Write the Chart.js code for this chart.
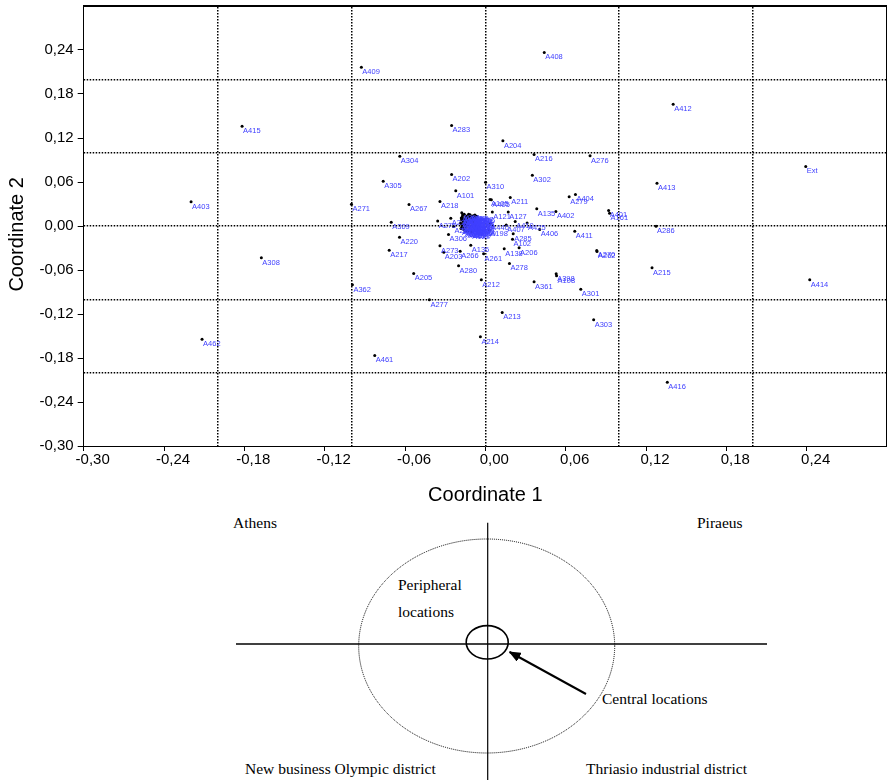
<!DOCTYPE html>
<html>
<head>
<meta charset="utf-8">
<script src="https://cdn.jsdelivr.net/npm/chart.js@4/dist/chart.umd.min.js"></script>
<style>
  html, body { margin: 0; padding: 0; background: #fff; overflow: hidden; }
  #wrap { position: absolute; left: 0; top: -7px; width: 887px; height: 518px; }
  #diagram { position: absolute; left: 0; top: 0; width: 887px; height: 780px; }
  #diagram text { font-family: "Liberation Serif", "Times New Roman", serif; font-size: 15.5px; fill: #000; }
</style>
</head>
<body>
<svg id="diagram" viewBox="0 0 887 780" xmlns="http://www.w3.org/2000/svg">
  <defs>
    <marker id="ah" markerWidth="12" markerHeight="10" refX="11" refY="5" orient="auto" markerUnits="userSpaceOnUse">
      <path d="M0,0 L12,5 L0,10 Z" fill="#000"/>
    </marker>
  </defs>
  <line x1="487.7" y1="522.7" x2="487.7" y2="780" stroke="#000" stroke-width="1.2"/>
  <line x1="236" y1="644" x2="767" y2="644" stroke="#000" stroke-width="1.6"/>
  <ellipse cx="486.7" cy="646" rx="128" ry="107" fill="none" stroke="#000" stroke-width="1" stroke-dasharray="1,1"/>
  <ellipse cx="487.2" cy="642.3" rx="21" ry="16.7" fill="none" stroke="#000" stroke-width="1.6"/>
  <line x1="586" y1="694" x2="509.6" y2="652" stroke="#000" stroke-width="2" marker-end="url(#ah)"/>
  <text x="233" y="528">Athens</text>
  <text x="697" y="528">Piraeus</text>
  <text x="398" y="590">Peripheral</text>
  <text x="398" y="616.5">locations</text>
  <text x="602" y="704">Central locations</text>
  <text x="245" y="774">New business Olympic district</text>
  <text x="586" y="774">Thriasio industrial district</text>
</svg>
<div id="wrap"><canvas id="c"></canvas></div>
<script>
// ---- data ----
const pointLabels = [
  "A415","A403","A409","A408","A283","A204","A216","A304","A202","A302",
  "A305","A310","A101","A211","A105","A405","A218","A271","A267","A135",
  "A402","A121","A127","A279","A404","A276","A309","A412","Ext","A413",
  "A401","A161","A286","A220","A217","A273","A203","A266","A306","A136",
  "A261","A138","A206","A102","A285","A406","A411","A278","A280","A205",
  "A212","A362","A361","A398","A108","A301","A277","A213","A214","A461",
  "A303","A270","A262","A215","A414","A416","A308","A462","A275","A410",
  "A407","A425","A440","A221","A231","A226","A282","A238","A229","A198",
  "A103","A104","A106","A107","A109","A110","A111","A112","A113","A114",
  "A115","A116","A117","A118","A119","A120","A122","A123","A124","A125",
  "A126","A128","A129","A130","A131","A132","A133","A134","A137","A139",
  "A140","A141","A142","A143","A144","A145","A146","A147","A148","A149",
  "A150","A151","A152","A153","A154","A155","A156","A157","A158","A159",
  "A160","A162","A163","A164","A165","A166","A167","A168","A169","A170"
];
const coord1 = [
  -0.1817,-0.2198,-0.0926, 0.0440,-0.0252, 0.0131, 0.0364,-0.0639,-0.0252, 0.0351,
  -0.0763, 0.0002,-0.0221, 0.0186, 0.0035, 0.0045,-0.0339,-0.1000,-0.0570, 0.0384,
   0.0527, 0.0052, 0.0171, 0.0626, 0.0673, 0.0782,-0.0703, 0.1403, 0.2393, 0.1282,
   0.0921, 0.0928, 0.1275,-0.0641,-0.0718,-0.0339,-0.0310,-0.0188,-0.0275,-0.0109,
  -0.0013, 0.0141, 0.0252, 0.0203, 0.0208, 0.0406, 0.0668, 0.0180,-0.0200,-0.0535,
  -0.0030,-0.0993, 0.0364, 0.0529, 0.0532, 0.0713,-0.0418, 0.0126,-0.0037,-0.0826,
   0.0809, 0.0832, 0.0834, 0.1245, 0.2423, 0.1359,-0.1673,-0.2116,-0.0356, 0.0223,
   0.0156, 0.0312, 0.0037,-0.0258,-0.0176,-0.0065,-0.0139,-0.0176,-0.0238, 0.0030,
  -0.0185,-0.0180,-0.0175,-0.0170,-0.0165,-0.0160,-0.0155,-0.0150,-0.0145,-0.0140,
  -0.0135,-0.0130,-0.0125,-0.0120,-0.0115,-0.0110,-0.0105,-0.0100,-0.0095,-0.0090,
  -0.0085,-0.0080,-0.0075,-0.0070,-0.0065,-0.0182,-0.0172,-0.0162,-0.0152,-0.0142,
  -0.0132,-0.0122,-0.0112,-0.0102,-0.0092,-0.0082,-0.0072,-0.0178,-0.0168,-0.0158,
  -0.0148,-0.0138,-0.0128,-0.0118,-0.0108,-0.0098,-0.0088,-0.0078,-0.0068,-0.0060,
  -0.0150,-0.0135,-0.0120,-0.0105,-0.0090,-0.0166,-0.0144,-0.0126,-0.0114,-0.0096
];
const coord2 = [
   0.1361, 0.0330, 0.2166, 0.2366, 0.1371, 0.1162, 0.0975, 0.0952, 0.0702, 0.0693,
   0.0611, 0.0597, 0.0480, 0.0389, 0.0361, 0.0357, 0.0334, 0.0297, 0.0293, 0.0235,
   0.0198, 0.0191, 0.0191, 0.0398, 0.0430, 0.0957, 0.0052, 0.1661, 0.0811, 0.0584,
   0.0211, 0.0175,-0.0003,-0.0153,-0.0330,-0.0270,-0.0357,-0.0344,-0.0116,-0.0262,
  -0.0379,-0.0311,-0.0297,-0.0180,-0.0106,-0.0048,-0.0071,-0.0511,-0.0543,-0.0648,
  -0.0734,-0.0802,-0.0761,-0.0652,-0.0679,-0.0862,-0.1006,-0.1180,-0.1511,-0.1766,
  -0.1279,-0.0334,-0.0348,-0.0570,-0.0734,-0.2130,-0.0434,-0.1544, 0.0068, 0.0061,
   0.0014, 0.0041, 0.0038, 0.0106, 0.0180, 0.0134, 0.0120, 0.0020,-0.0007,-0.0050,
   0.0040, 0.0110,-0.0010, 0.0150, 0.0060,-0.0050, 0.0095, 0.0020, 0.0135,-0.0070,
   0.0075, 0.0005, 0.0160,-0.0030, 0.0115, 0.0045,-0.0080, 0.0090, 0.0025, 0.0140,
  -0.0040, 0.0065, 0.0105,-0.0015, 0.0050,-0.0035, 0.0125, 0.0030,-0.0060, 0.0100,
   0.0015, 0.0145,-0.0055, 0.0055, 0.0120,-0.0025, 0.0080, 0.0085,-0.0020, 0.0160,
   0.0010, 0.0040,-0.0065, 0.0070, 0.0130,-0.0005, 0.0035, 0.0150, 0.0020,-0.0045,
   0.0060, 0.0120,-0.0045, 0.0000, 0.0105, 0.0100,-0.0020, 0.0030, 0.0155,-0.0075
];
const xTickValues = [-0.30,-0.24,-0.18,-0.12,-0.06,0.00,0.06,0.12,0.18,0.24];
const yTickValues = [-0.30,-0.24,-0.18,-0.12,-0.06,0.00,0.06,0.12,0.18,0.24];
const gridValues  = [-0.2,-0.1,0,0.1,0.2];
const axisMin = -0.30, axisMax = 0.30;

// ---- chart ----
const SANS = '"Liberation Sans", Arial, sans-serif';
const points = coord1.map((x, i) => ({ x: x, y: coord2[i] }));
const fmt = v => (Math.abs(v) < 1e-9 ? 0 : v).toFixed(2).replace('.', ',');
const setTicks = arr => scale => { scale.ticks = arr.map(v => ({ value: v })); };

const labelPlugin = {
  id: 'pointLabels',
  afterDatasetsDraw(chart) {
    const ctx = chart.ctx;
    const meta = chart.getDatasetMeta(0);
    ctx.save();
    ctx.font = '7.5px ' + SANS;
    ctx.fillStyle = '#4040ff';
    ctx.textBaseline = 'alphabetic';
    meta.data.forEach((el, i) => { ctx.fillText(pointLabels[i], el.x + 1, el.y + 6.8); });
    ctx.restore();
  }
};

const dotted = { color: '#000', lineWidth: 1.5 };
new Chart(document.getElementById('c'), {
  type: 'scatter',
  data: { datasets: [{ data: points, pointRadius: 1.5, pointHoverRadius: 1.5,
    backgroundColor: '#000', borderWidth: 0 }] },
  options: {
    responsive: true, maintainAspectRatio: false, animation: false,
    layout: { padding: { top: 5.5, right: 0, bottom: 0, left: 0 }, autoPadding: false },
    plugins: { legend: { display: false }, tooltip: { enabled: false } },
    events: [],
    scales: {
      x: {
        type: 'linear', position: 'bottom', min: axisMin, max: axisMax,
        afterBuildTicks: setTicks(xTickValues),
        grid: { drawOnChartArea: false, drawTicks: true, tickLength: 5, color: '#000' },
        border: { display: true, color: '#000', width: 1 },
        ticks: { font: { family: SANS, size: 15 }, color: '#000', padding: 0, labelOffset: 9,
          maxRotation: 0, autoSkip: false, callback: v => fmt(v) },
        title: { display: true, text: 'Coordinate 1', color: '#000',
          font: { family: SANS, size: 20 }, padding: { top: 14, bottom: 4 } }
      },
      y: {
        type: 'linear', position: 'left', min: axisMin, max: axisMax,
        afterBuildTicks: setTicks(yTickValues),
        grid: { drawOnChartArea: false, drawTicks: true, tickLength: 6, color: '#000' },
        border: { display: true, color: '#000', width: 1 },
        ticks: { font: { family: SANS, size: 15 }, color: '#000', padding: 4, autoSkip: false,
          callback: v => fmt(v) },
        title: { display: true, text: 'Coordinate 2   ', color: '#000',
          font: { family: SANS, size: 20 }, padding: { top: 5, bottom: 6.5 } }
      },
      x2: {
        type: 'linear', position: 'top', min: axisMin, max: axisMax,
        afterBuildTicks: setTicks(gridValues),
        grid: Object.assign({ drawTicks: false, drawOnChartArea: true }, dotted, { borderDash: [1.5, 1.5] }),
        border: { display: true, color: '#000', width: 2, dash: [1.5, 1.5] },
        ticks: { display: false }
      },
      y2: {
        type: 'linear', position: 'right', min: axisMin, max: axisMax,
        afterBuildTicks: setTicks(gridValues),
        grid: Object.assign({ drawTicks: false, drawOnChartArea: true }, dotted, { borderDash: [1.5, 1.5] }),
        border: { display: true, color: '#000', width: 2, dash: [1.5, 1.5] },
        ticks: { display: false }
      }
    }
  },
  plugins: [labelPlugin]
});
</script>
</body>
</html>
